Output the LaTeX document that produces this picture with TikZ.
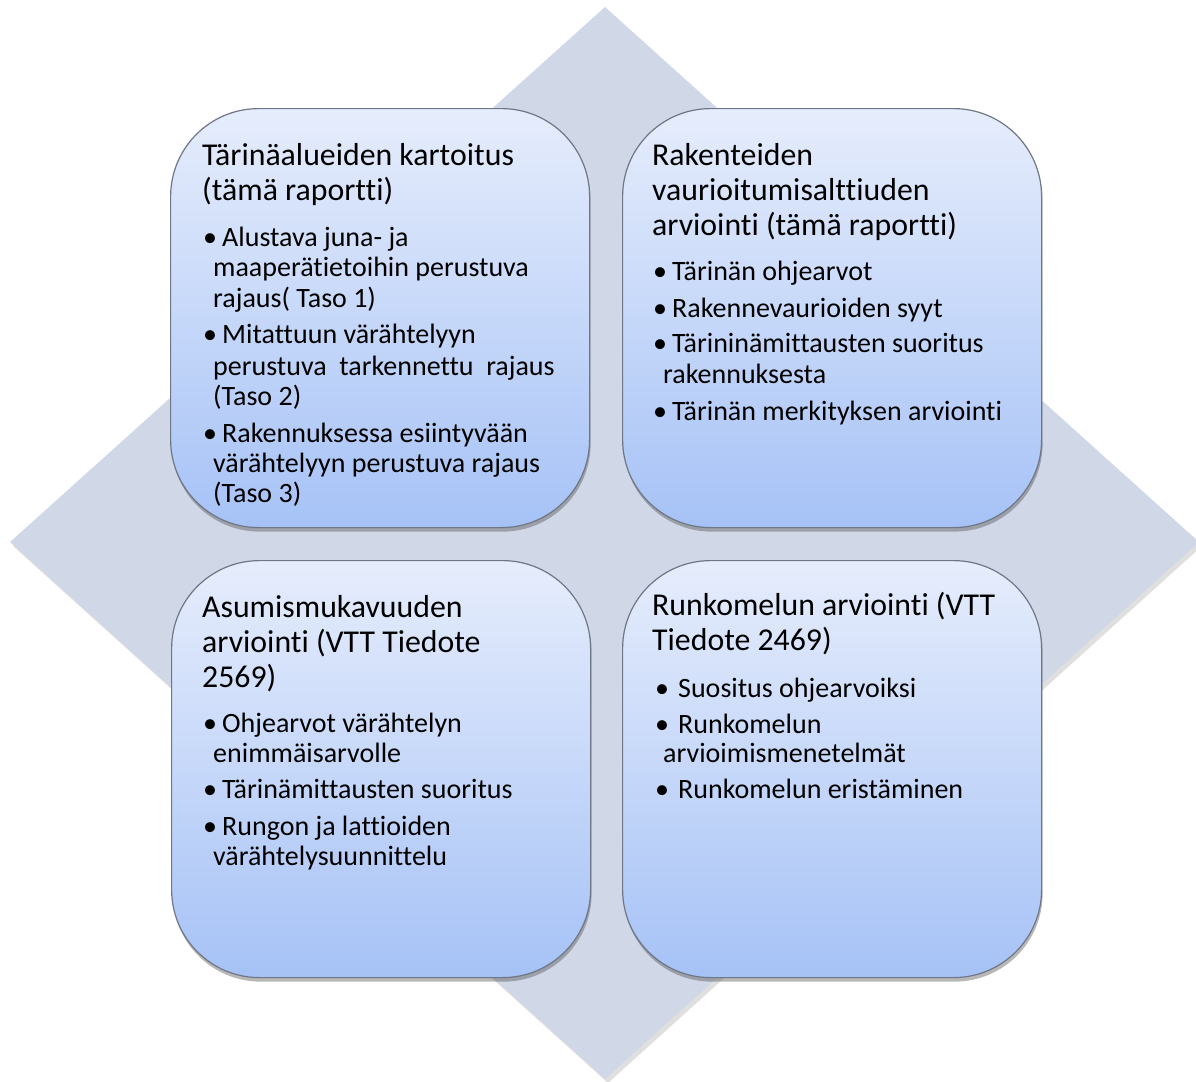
\documentclass[tikz,border=0pt]{standalone}
\usepackage{fontspec}
\setmainfont{Carlito}[Ligatures={NoCommon}]
\usetikzlibrary{shadows}
\definecolor{diam}{HTML}{D0D7E6}
\definecolor{boxtop}{HTML}{E6EDFC}
\definecolor{boxbot}{HTML}{A6C2F6}
\definecolor{boxline}{HTML}{6F7786}
\newcommand{\bl}[1]{\makebox[19pt][l]{•}#1}
\newcommand{\blw}[1]{\makebox[23pt][l]{•}#1}
\begin{document}
\begin{tikzpicture}[x=1pt,y=-1pt,
  panel/.style={draw=boxline, line width=1.2pt, rounded corners=88pt,
    top color=boxtop, bottom color=boxbot, minimum width=419pt, minimum height=419pt,
    anchor=north west, inner sep=0pt,
    drop shadow={opacity=0.4, shadow xshift=1pt, shadow yshift=-4pt, fill=black!70}},
  ttl/.style={anchor=base west, inner sep=0pt, font=\fontsize{31.8}{35}\selectfont},
  itm/.style={anchor=base west, inner sep=0pt, font=\fontsize{28}{31}\selectfont},
]
\useasboundingbox (0,0) rectangle (1196,1081);
\clip (0,0) rectangle (1196,1081);
% background diamond
\path[fill=diam, drop shadow={opacity=0.25, shadow xshift=3pt, shadow yshift=-4pt}]
  (605,7) -- (1199,542) -- (605,1079) -- (10,542) -- cycle;

% panels
\node[panel] (tl) at (170,108) {};
\node[panel] (tr) at (622,108) {};
\node[panel, minimum height=417pt] (bl) at (171,560) {};
\node[panel, minimum height=417pt] (br) at (622,560) {};

% top left
\node[ttl] (tl-h1) at (202,165) {Tärinäalueiden kartoitus};
\node[ttl] (tl-h2) at (202,200) {(tämä raportti)};
\node[itm] (tl-a1) at (203,246) {\bl{Alustava juna- ja}};
\node[itm] (tl-a2) at (213,276) {maaperätietoihin perustuva};
\node[itm] (tl-a3) at (213,307) {rajaus( Taso 1)};
\node[itm] (tl-b1) at (203,343) {\bl{Mitattuun värähtelyyn}};
\node[itm] (tl-b2) at (213,375) {perustuva\ \ tarkennettu\ \ rajaus};
\node[itm] (tl-b3) at (213,405) {(Taso 2)};
\node[itm] (tl-c1) at (203,442) {\bl{Rakennuksessa esiintyvään}};
\node[itm] (tl-c2) at (213,472) {värähtelyyn perustuva rajaus};
\node[itm] (tl-c3) at (213,502) {(Taso 3)};

% top right
\node[ttl] (tr-h1) at (652,165) {Rakenteiden};
\node[ttl] (tr-h2) at (652,200) {vaurioitumisalttiuden};
\node[ttl] (tr-h3) at (652,235) {arviointi (tämä raportti)};
\node[itm] (tr-a1) at (653,280) {\bl{Tärinän ohjearvot}};
\node[itm] (tr-b1) at (653,317) {\bl{Rakennevaurioiden syyt}};
\node[itm] (tr-c1) at (653,352) {\bl{Tärininämittausten suoritus}};
\node[itm] (tr-c2) at (663,383) {rakennuksesta};
\node[itm] (tr-d1) at (653,420) {\bl{Tärinän merkityksen arviointi}};

% bottom left
\node[ttl] (bl-h1) at (202,617) {Asumismukavuuden};
\node[ttl] (bl-h2) at (202,652) {arviointi (VTT Tiedote};
\node[ttl] (bl-h3) at (202,687) {2569)};
\node[itm] (bl-a1) at (203,732) {\bl{Ohjearvot värähtelyn}};
\node[itm] (bl-a2) at (213,762) {enimmäisarvolle};
\node[itm] (bl-b1) at (203,798) {\bl{Tärinämittausten suoritus}};
\node[itm] (bl-c1) at (203,835) {\bl{Rungon ja lattioiden}};
\node[itm] (bl-c2) at (213,865) {värähtelysuunnittelu};

% bottom right
\node[ttl] (br-h1) at (652,615) {Runkomelun arviointi (VTT};
\node[ttl] (br-h2) at (652,650) {Tiedote 2469)};
\node[itm] (br-a1) at (655,697) {\blw{Suositus ohjearvoiksi}};
\node[itm] (br-b1) at (655,733) {\blw{Runkomelun}};
\node[itm] (br-b2) at (663,762) {arvioimismenetelmät};
\node[itm] (br-c1) at (655,798) {\blw{Runkomelun eristäminen}};
\end{tikzpicture}
\end{document}
